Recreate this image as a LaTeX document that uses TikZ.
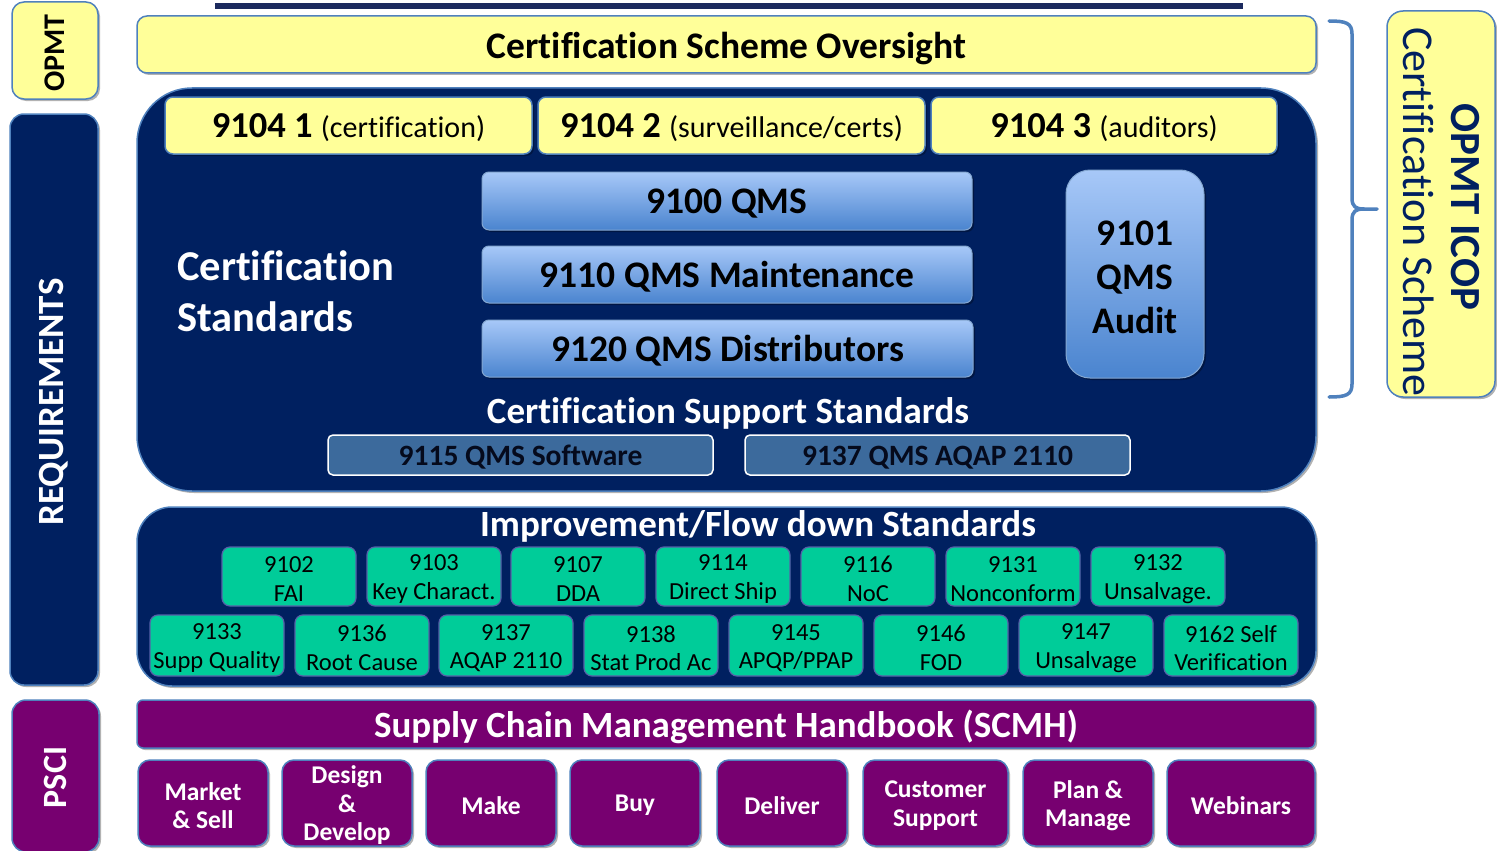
\documentclass[tikz,border=0pt]{standalone}
\usepackage{fontspec}
\setmainfont{Carlito}[Ligatures=NoCommon]
\usetikzlibrary{shadows}
\definecolor{ylw}{HTML}{FFFF99}
\definecolor{bord}{HTML}{4F81BD}
\definecolor{navy}{HTML}{002060}
\definecolor{topline}{HTML}{1C2A5E}
\definecolor{lbtop}{HTML}{A7C8F8}
\definecolor{lbbot}{HTML}{4A84CF}
\definecolor{steel}{HTML}{3C6A9C}
\definecolor{grn}{HTML}{00CC99}
\definecolor{grnbord}{HTML}{5560A8}
\definecolor{purp}{HTML}{770070}
\definecolor{darktext}{HTML}{050A1C}
\newcommand\fs[2]{\fontsize{#1}{#2}\selectfont}
\newcommand\pbox[8]{%
  \pgfmathsetmacro\bcx{(#3+#5)/2}\pgfmathsetmacro\bcy{(#4+#6)/2}%
  \pgfmathsetmacro\bw{#5-#3}\pgfmathsetmacro\bh{#6-#4}%
  \node[#1, minimum width=\bw pt, minimum height=\bh pt, inner sep=0pt] (#2) at (\bcx,\bcy) {};
  \node[txt, #7] (#2t) at (#2.center) {#8};}
\tikzset{
  txt/.style={inner sep=0pt, align=center, yshift=-2.5pt},
  shad/.style={drop shadow={shadow xshift=2pt, shadow yshift=-2pt, opacity=0.3, fill=black}},
  ybox/.style={draw=bord, line width=1.5pt, fill=ylw, rounded corners=10pt, shad},
  nbox/.style={draw=bord, line width=1.5pt, fill=navy, shad},
  qbox/.style={draw=bord!70!white, line width=1pt, top color=lbtop, bottom color=lbbot, rounded corners=7pt, shad},
  qtxt/.style={font=\fs{37.5}{44}\bfseries},
  sbox/.style={draw=white, line width=1.5pt, fill=steel, rounded corners=5pt},
  stxt/.style={text=darktext, font=\fs{29.5}{34}\bfseries},
  gbox/.style={draw=grnbord, line width=1.2pt, fill=grn, rounded corners=8pt},
  gtxt/.style={font=\fs{24.5}{28.5}},
  pbx/.style={draw=bord, line width=1.5pt, fill=purp, rounded corners=12pt, shad},
  ptxt/.style={text=white, font=\fs{25.5}{28.5}\bfseries},
  brace/.style={draw=bord, line width=3.5pt, line cap=round, line join=round}
}
\begin{document}
\begin{tikzpicture}[x=1pt,y=-1pt]
\useasboundingbox (0,0) rectangle (1497,851);
\draw[topline, line width=6pt] (215,6) -- (1243,6);
% left column
\pbox{ybox, rounded corners=12pt}{opmt}{12}{2}{98}{99}{rotate=90, yshift=0pt, xshift=0pt, font=\fs{30}{36}\bfseries}{OPMT}
\pbox{nbox, rounded corners=14pt}{req}{10}{114}{98}{685}{rotate=90, yshift=0pt, text=white, font=\fs{37}{42}\bfseries}{REQUIREMENTS}
\pbox{nbox, fill=purp, rounded corners=14pt}{psci}{12}{700}{99}{852}{rotate=90, yshift=0pt, xshift=1pt, text=white, font=\fs{34}{40}\bfseries}{PSCI}
% oversight
\pbox{ybox}{cso}{137}{16}{1316}{73}{yshift=-1.5pt, font=\fs{37.5}{42}\bfseries}{Certification Scheme Oversight}
% big navy
\pbox{nbox, rounded corners=55pt}{cert}{137}{88}{1316}{491}{}{}
\pbox{ybox, rounded corners=8pt}{a}{165}{97}{532}{154}{}{{\fs{36.5}{42}\bfseries 9104 1 }{\fs{30}{36}(certification)}}
\pbox{ybox, rounded corners=8pt}{b}{538}{97}{925}{154}{}{{\fs{36.5}{42}\bfseries 9104 2 }{\fs{30}{36}(surveillance/certs)}}
\pbox{ybox, rounded corners=8pt}{c}{931}{97}{1277}{154}{}{{\fs{36.5}{42}\bfseries 9104 3 }{\fs{30}{36}(auditors)}}
\node[anchor=west, align=left, text=white, font=\fs{42.5}{51}\bfseries, inner sep=0pt] (cstd) at (177,291) {Certification\\Standards};
\pbox{qbox}{q1}{482}{172}{972}{230}{qtxt}{9100 QMS}
\pbox{qbox}{q2}{482}{246}{972}{303}{qtxt}{9110 QMS Maintenance}
\pbox{qbox}{q3}{482}{320}{973}{377}{qtxt}{9120 QMS Distributors}
\pbox{qbox, rounded corners=24pt}{q4}{1066}{170}{1204}{378}{qtxt, yshift=-0.5pt}{9101\\QMS\\Audit}
\node[text=white, font=\fs{37}{42}\bfseries] (css) at (728,413) {Certification Support Standards};
\pbox{sbox}{s1}{328}{435}{713}{475}{stxt}{9115 QMS Software}
\pbox{sbox}{s2}{745}{435}{1130}{475}{stxt}{9137 QMS AQAP 2110}
% improvement
\pbox{nbox, rounded corners=35pt}{imp}{137}{507}{1316}{686}{}{}
\node[text=white, font=\fs{37}{42}\bfseries] (impt) at (758,526) {Improvement/Flow down Standards};
\pbox{gbox}{g1}{222}{547}{356}{606}{gtxt}{9102\\FAI}
\pbox{gbox}{g2}{367}{547}{501}{606}{gtxt}{9103\\Key Charact.}
\pbox{gbox}{g3}{511}{547}{645}{606}{gtxt}{9107\\DDA}
\pbox{gbox}{g4}{656}{547}{790}{606}{gtxt}{9114\\Direct Ship}
\pbox{gbox}{g5}{801}{547}{935}{606}{gtxt}{9116\\NoC}
\pbox{gbox}{g6}{946}{547}{1080}{606}{gtxt}{9131\\Nonconform}
\pbox{gbox}{g7}{1091}{547}{1225}{606}{gtxt}{9132\\Unsalvage.}
\pbox{gbox}{h1}{150}{615}{284}{676}{gtxt}{9133\\Supp Quality}
\pbox{gbox}{h2}{295}{615}{429}{676}{gtxt}{9136\\Root Cause}
\pbox{gbox}{h3}{439}{615}{573}{676}{gtxt}{9137\\AQAP 2110}
\pbox{gbox}{h4}{584}{615}{718}{676}{gtxt}{9138\\Stat Prod Ac}
\pbox{gbox}{h5}{729}{615}{863}{676}{gtxt}{9145\\APQP/PPAP}
\pbox{gbox}{h6}{874}{615}{1008}{676}{gtxt}{9146\\FOD}
\pbox{gbox}{h7}{1019}{615}{1153}{676}{gtxt}{9147\\Unsalvage}
\pbox{gbox}{h8}{1164}{615}{1298}{676}{gtxt}{9162 Self\\Verification}
% SCMH
\pbox{pbx, rounded corners=6pt}{scmh}{137}{700}{1315}{748}{text=white, font=\fs{37}{42}\bfseries}{Supply Chain Management Handbook (SCMH)}
\pbox{pbx}{p1}{138}{760}{268}{846}{ptxt}{Market\\\& Sell}
\pbox{pbx}{p2}{282}{760}{412}{846}{ptxt}{Design\\\&\\Develop}
\pbox{pbx}{p3}{426}{760}{556}{846}{ptxt}{Make}
\pbox{pbx}{p4}{570}{760}{700}{846}{ptxt}{Buy}
\pbox{pbx}{p5}{717}{760}{847}{846}{ptxt}{Deliver}
\pbox{pbx}{p6}{863}{760}{1008}{846}{ptxt}{Customer\\Support}
\pbox{pbx}{p7}{1023}{760}{1153}{846}{ptxt}{Plan \&\\Manage}
\pbox{pbx}{p8}{1167}{760}{1315}{846}{ptxt}{Webinars}
% brace
\draw[brace] (1329,21) .. controls (1346,21) and (1352,23) .. (1352,34) -- (1352,198)
  .. controls (1352,207) and (1356,209) .. (1364,209) -- (1377,209);
\draw[brace] (1364,209) .. controls (1356,209) and (1352,211) .. (1352,220) -- (1352,384)
  .. controls (1352,395) and (1346,397) .. (1329,397);
% OPMT ICOP
\pbox{ybox, rounded corners=16pt}{icop}{1387}{11}{1495}{397}{}{}
\node[rotate=-90, text=navy, font=\fs{43}{48}\bfseries] (icopt1) at (1465,207) {OPMT ICOP};
\node[rotate=-90, text=navy, font=\fs{44}{48}] (icopt2) at (1419,212) {Certification Scheme};
\end{tikzpicture}
\end{document}
